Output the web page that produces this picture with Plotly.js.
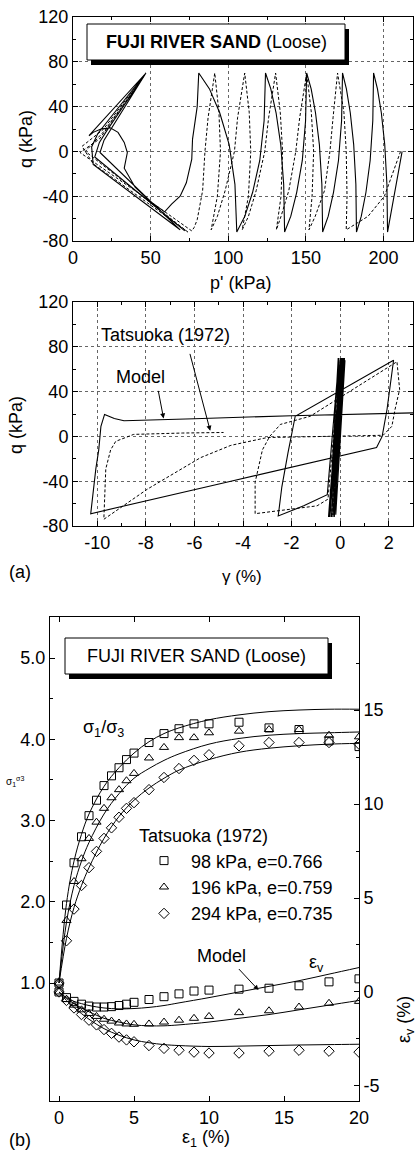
<!DOCTYPE html>
<html>
<head>
<meta charset="utf-8">
<script src="https://cdn.plot.ly/plotly-3.0.1.min.js"></script>
<style>
  html, body { margin: 0; padding: 0; background: #fff; }
  #chart { width: 417px; height: 1156px; }
</style>
</head>
<body>
<div id="chart"></div>
<script>
// ---------- (a) upper: effective stress path, q vs p' ----------
const pathModelP = [212,207.5,202.6, 202.2,200.8,198.6,196.1,193.6, 193.1,191.4,188.7,185.7,182.6,
  182.2,180.8,178.6,176.1,173.6, 173.0,171.0,167.8,164.4,160.8, 160.3,158.7,156.2,153.4,150.5,
  149.8,147.7,144.1,140.3,136.3, 135.7,133.8,130.8,127.4,124, 123.1,120.3,115.7,110.7,105.5,
  104.3,100.6,94.5,87.9,81, 80,77,76.5,73,69,63.5,59, 50,40,33,35,33,29,24,18,13,10.3,
  47,16,12,13,69,17.4,20,47,22,17,14,72];
const pathModelQ = [0,-35,-72, -29.4,6.1,34.5,55.8,70, 27.4,-8.1,-36.5,-57.8,-72,
  -29.4,6.1,34.5,55.8,70, 27.4,-8.1,-36.5,-57.8,-72, -29.4,6.1,34.5,55.8,70,
  27.4,-8.1,-36.5,-57.8,-72, -29.4,6.1,34.5,55.8,70, 27.4,-8.1,-36.5,-57.8,-72,
  -29.4,6.1,34.5,55.8,70, 40,11,-7,-28,-40,-47,-54, -45,-32,-15,-1,8,17,21,20,17,14,
  70,16,4,-11.6,-70,-1,10,70,19,8,-5,-71];

const pathTestP = [211,206,200.6,190,176, 176.5,176,174.5,170.4, 167.5,165.5,162,156,152,
  154,155,153.5,150.5, 146,143.5,139,134,131, 134,135,133.5,130.5, 126,123.5,118,113,109,
  113,114.5,113.5,110.6, 106,104,98,93,89, 93,95,94,91.3, 87,85,83.5,81,80,78,76.5,
  45,20,4.5,17,45,19.5,5.8,13,74,8,20,46];
const pathTestQ = [0,-20,-40,-58,-70, -40,0,35,70, 30,0,-35,-58,-70,
  -40,0,35,70, 30,0,-35,-58,-70, -40,0,35,70, 30,0,-35,-58,-70,
  -40,0,35,70, 30,0,-35,-58,-70, -40,0,35,70, 30,0,-35,-55,-61,-68,-71,
  -40,-16,-1,11,66,19.6,4.5,-11,-72,0,18,68];

// ---------- (a) lower: q vs shear strain ----------
const shearModelStrain = [0,0.02,-0.48,0.06,-0.42,0.1,-0.36,0.14,-0.3,0.18,-0.24,-0.08,-0.44,0.2,-0.18,-0.05,
  -0.53,-1.5,-2.55,-2.4,-2.15,-1.85,2.2,1.93,1.73,1.5,-4.5,-10.27,
  -10.06,-9.94,-9.85,-9.7,-9.3,-8.9,-6,-2,3];
const shearModelQ = [0,70,-72,70,-72,70,-72,70,-72,70,-72,70,-72,68,-70,70,
  -52,-62,-71,-45,-15,18,68,24,0,-10,-40,-69,
  -29,-12,9,19.6,16,14,15.8,18.5,21];

const shearTestStrain = [0,0.05,-0.35,0.1,-0.3,0.15,-0.25,0,-0.5,-0.95,-3.5,-3.5,-3.2,-2.9,-2.46,-1.23,
  2.34,2.45,2.26,2.13,1.77,0,-3,-4.5,-5.75,-7.93,-9.73,-9.65,-9.45,-9.24,-8.5,-6.5,-4.8];
const shearTestQ = [0,68,-70,68,-70,68,-70,68,-56,-62,-69,-41,-12,0,10.7,18,
  66.7,42,24,9,1,0.5,-1,-8,-19,-47,-74,-29,-12,-4.4,1.8,3,3.5];

// ---------- (b): drained triaxial compression ----------
const axialStrain = [0,0.5,1,1.5,2,2.5,3,3.5,4,4.5,5,6,7,8,9,10,12,14,16,18,20];
const ratio98  = [1.0,1.96,2.48,2.80,3.06,3.25,3.43,3.55,3.65,3.75,3.83,3.96,4.07,4.13,4.19,4.19,4.21,4.14,4.12,3.98,3.91];
const ratio196 = [1.0,1.77,2.25,2.53,2.78,2.98,3.15,3.28,3.38,3.49,3.58,3.77,3.90,4.02,4.02,4.08,4.10,4.12,4.12,4.05,4.03];
const ratio294 = [1.0,1.52,1.91,2.20,2.42,2.62,2.78,2.91,3.04,3.15,3.22,3.38,3.53,3.64,3.74,3.81,3.92,3.96,3.96,3.96,3.94];
const vol98  = [0,-0.3,-0.5,-0.65,-0.75,-0.8,-0.8,-0.78,-0.72,-0.65,-0.55,-0.4,-0.25,-0.1,0.05,0.1,0.15,0.2,0.33,0.54,0.7];
const vol196 = [0,-0.4,-0.7,-0.95,-1.15,-1.3,-1.45,-1.55,-1.65,-1.7,-1.72,-1.7,-1.6,-1.5,-1.4,-1.3,-1.1,-1.0,-0.8,-0.6,-0.5];
const vol294 = [0,-0.45,-0.85,-1.2,-1.5,-1.75,-2.0,-2.2,-2.4,-2.55,-2.65,-2.85,-3.0,-3.1,-3.2,-3.25,-3.25,-3.15,-3.1,-3.15,-3.2];

const modelAxialStrain = [0,0.5,1,1.5,2,3,4,5,6,7,8,10,12,14,16,18,20];
const modelRatio98  = [1.0,1.98,2.5,2.83,3.08,3.42,3.65,3.83,3.97,4.07,4.14,4.24,4.30,4.34,4.36,4.37,4.37];
const modelRatio196 = [1.0,1.75,2.2,2.5,2.73,3.08,3.33,3.52,3.64,3.74,3.82,3.94,4.01,4.05,4.07,4.08,4.09];
const modelRatio294 = [1.0,1.55,1.93,2.2,2.42,2.78,3.05,3.25,3.4,3.52,3.62,3.75,3.84,3.89,3.92,3.94,3.95];
const modelVol98  = [0,-0.3,-0.5,-0.62,-0.72,-0.85,-0.9,-0.88,-0.82,-0.72,-0.58,-0.3,0.0,0.3,0.6,0.95,1.3];
const modelVol196 = [0,-0.35,-0.62,-0.85,-1.05,-1.4,-1.6,-1.75,-1.8,-1.8,-1.75,-1.6,-1.4,-1.2,-0.95,-0.7,-0.45];
const modelVol294 = [0,-0.45,-0.82,-1.15,-1.45,-1.95,-2.3,-2.55,-2.7,-2.8,-2.85,-2.9,-2.88,-2.85,-2.82,-2.8,-2.78];

const seriesNames = ['98 kPa, e=0.766', '196 kPa, e=0.759', '294 kPa, e=0.735'];

// tick values and labels
const pTicks = [0,50,100,150,200];
const qTicks = [-80,-40,0,40,80,120];
const qTickText = ['-80','-40','0','40','80','120'];
const gammaTicks = [-10,-8,-6,-4,-2,0,2];
const gammaTickText = ['-10','-8','-6','-4','-2','0','2'];
const e1Ticks = [0,5,10,15,20];
const ratioTicks = [1,2,3,4,5];
const ratioTickText = ['1.0','2.0','3.0','4.0','5.0'];
const volTicks = [-5,0,5,10,15];
const volTickText = ['-5','0','5','10','15'];

// ---------- drawing ----------
const FONT = 'Liberation Sans, Arial, Helvetica, sans-serif';
const W = 417, H = 1156;
const PX = x => x / W;
const PY = y => 1 - y / H;

const solid = {color: '#000', width: 1.1};
const dashed = {color: '#000', width: 1, dash: '3px,2px'};

function axis(extra) {
  return Object.assign({
    showline: true, linecolor: '#000', linewidth: 1,
    ticks: 'inside', ticklen: 5, tickwidth: 1, tickcolor: '#000',
    mirror: 'ticks', zeroline: false, showgrid: false,
    tickfont: {family: FONT, size: 18, color: '#000'},
    fixedrange: true
  }, extra);
}
const grid = {showgrid: true, gridcolor: '#666', griddash: 'dot', gridwidth: 1};

const traces = [
  {x: pathModelP, y: pathModelQ, xaxis: 'x', yaxis: 'y', mode: 'lines', line: solid, showlegend: false},
  {x: pathTestP, y: pathTestQ, xaxis: 'x', yaxis: 'y', mode: 'lines', line: dashed, showlegend: false},
  {x: shearModelStrain, y: shearModelQ, xaxis: 'x2', yaxis: 'y2', mode: 'lines', line: solid, showlegend: false},
  {x: shearTestStrain, y: shearTestQ, xaxis: 'x2', yaxis: 'y2', mode: 'lines', line: dashed, showlegend: false}
];

const modelRatios = [modelRatio98, modelRatio196, modelRatio294];
const modelVols = [modelVol98, modelVol196, modelVol294];
modelRatios.forEach(r => traces.push({x: modelAxialStrain, y: r, xaxis: 'x3', yaxis: 'y3', mode: 'lines',
  line: {color: '#000', width: 1, shape: 'spline'}, showlegend: false}));
modelVols.forEach(v => traces.push({x: modelAxialStrain, y: v, xaxis: 'x3', yaxis: 'y4', mode: 'lines',
  line: {color: '#000', width: 1, shape: 'spline'}, showlegend: false}));

const symbols = ['square-open', 'triangle-up-open', 'diamond-open'];
const ratios = [ratio98, ratio196, ratio294];
const vols = [vol98, vol196, vol294];
symbols.forEach((s, i) => {
  const mk = {symbol: s, size: 8, color: '#000', line: {width: 1, color: '#000'}};
  traces.push({x: axialStrain, y: ratios[i], xaxis: 'x3', yaxis: 'y3', mode: 'markers',
    marker: mk, name: seriesNames[i], showlegend: true});
  traces.push({x: axialStrain, y: vols[i], xaxis: 'x3', yaxis: 'y4', mode: 'markers',
    marker: mk, showlegend: false});
});

function txt(text, x, y, size, opts) {
  return Object.assign({text: text, xref: 'paper', yref: 'paper', x: PX(x), y: PY(y),
    xanchor: 'center', yanchor: 'middle', showarrow: false,
    font: {family: FONT, size: size, color: '#000'}}, opts || {});
}
function arrow(xr, yr, x, y, ax, ay) {
  return {text: '', xref: xr, yref: yr, x: x, y: y, axref: xr, ayref: yr, ax: ax, ay: ay,
    showarrow: true, arrowhead: 2, arrowsize: 1, arrowwidth: 1, arrowcolor: '#000'};
}

const annotations = [
  txt('<b>FUJI RIVER SAND</b> (Loose)', 216, 42, 18),
  txt("p' (kPa)", 240, 283, 18),
  txt('q (kPa)', 26, 139, 18, {textangle: -90}),
  txt('Tatsuoka (1972)', 165, 335, 18),
  txt('Model', 140, 377, 18),
  arrow('x2', 'y2', -5.35, 5, -6.2, 75),
  arrow('x2', 'y2', -7.27, 16, -7.5, 42),
  txt('q (kPa)', 16, 425, 18, {textangle: -90}),
  txt('γ (%)', 242, 576, 17),
  txt('(a)', 20, 572, 18),
  txt('FUJI RIVER SAND (Loose)', 196, 656, 18),
  txt('σ<sub>1</sub>/σ<sub>3</sub>', 103, 728, 18),
  txt('σ<sub>1</sub><sup>σ</sup><sup>3</sup>', 15, 781, 10),
  txt('Model', 221, 956, 18),
  arrow('x3', 'y4', 13.3, 0.1, 11.9, 1.3),
  txt('ε<sub>v</sub>', 316, 963, 18),
  txt('ε<sub>v</sub> (%)', 405, 1020, 18, {textangle: -90}),
  txt('ε<sub>1</sub> (%)', 206, 1138, 18),
  txt('(b)', 20, 1140, 18)
];

const shapes = [
  {type: 'rect', xref: 'paper', yref: 'paper', x0: PX(91), x1: PX(349), y0: PY(65), y1: PY(29),
    fillcolor: '#000', line: {width: 0}, layer: 'above'},
  {type: 'rect', xref: 'paper', yref: 'paper', x0: PX(87), x1: PX(345), y0: PY(60), y1: PY(24),
    fillcolor: '#fff', line: {color: '#000', width: 1}, layer: 'above'},
  {type: 'rect', xref: 'paper', yref: 'paper', x0: PX(69), x1: PX(332), y0: PY(679), y1: PY(643),
    fillcolor: '#000', line: {width: 0}, layer: 'above'},
  {type: 'rect', xref: 'paper', yref: 'paper', x0: PX(65), x1: PX(328), y0: PY(674), y1: PY(638),
    fillcolor: '#fff', line: {color: '#000', width: 1}, layer: 'above'}
];

const layout = {
  width: W, height: H,
  margin: {l: 0, r: 0, t: 0, b: 0},
  paper_bgcolor: '#fff', plot_bgcolor: '#fff',
  font: {family: FONT, size: 18, color: '#000'},
  showlegend: true,
  legend: {x: PX(137), y: PY(819), xanchor: 'left', yanchor: 'top', bgcolor: 'rgba(0,0,0,0)',
    font: {family: FONT, size: 18, color: '#000'},
    title: {text: 'Tatsuoka (1972)', font: {family: FONT, size: 18, color: '#000'}},
    itemwidth: 44, tracegroupgap: 0},
  xaxis: axis(Object.assign({domain: [PX(73), PX(413)], range: [0, 219], anchor: 'y',
    tickmode: 'array', tickvals: pTicks,
    minor: {dtick: 25, tick0: 0, ticks: 'inside', ticklen: 3, tickcolor: '#000', showgrid: false}}, grid)),
  yaxis: axis(Object.assign({domain: [PY(241), PY(17)], range: [-80, 120], anchor: 'x',
    tickmode: 'array', tickvals: qTicks, ticktext: qTickText,
    minor: {dtick: 20, tick0: 0, ticks: 'inside', ticklen: 3, tickcolor: '#000', showgrid: false}}, grid)),
  xaxis2: axis(Object.assign({domain: [PX(73), PX(413)], range: [-11, 3], anchor: 'y2',
    tickmode: 'array', tickvals: gammaTicks, ticktext: gammaTickText,
    minor: {dtick: 1, tick0: 0, ticks: 'inside', ticklen: 3, tickcolor: '#000', showgrid: false}}, grid)),
  yaxis2: axis(Object.assign({domain: [PY(526), PY(302)], range: [-80, 120], anchor: 'x2',
    tickmode: 'array', tickvals: qTicks, ticktext: qTickText,
    minor: {dtick: 20, tick0: 0, ticks: 'inside', ticklen: 3, tickcolor: '#000', showgrid: false}}, grid)),
  xaxis3: axis({domain: [PX(50), PX(359)], range: [-0.6, 20], anchor: 'y3',
    tickmode: 'array', tickvals: e1Ticks}),
  yaxis3: axis({domain: [PY(1101), PY(617)], range: [-0.452, 5.505], anchor: 'x3', mirror: false,
    tickmode: 'array', tickvals: ratioTicks, ticktext: ratioTickText,
    minor: {tickmode: 'array', tickvals: [1.5, 2.5, 3.5, 4.5], ticks: 'inside', ticklen: 3, tickcolor: '#000', showgrid: false}}),
  yaxis4: axis({overlaying: 'y3', side: 'right', anchor: 'x3', range: [-5.8, 19.95], mirror: false,
    tickmode: 'array', tickvals: volTicks, ticktext: volTickText,
    minor: {tickmode: 'array', tickvals: [-2.5, 2.5, 7.5, 12.5, 17.5], ticks: 'inside', ticklen: 3, tickcolor: '#000', showgrid: false}}),
  annotations: annotations,
  shapes: shapes
};

Plotly.newPlot('chart', traces, layout, {staticPlot: true, displayModeBar: false});
</script>
</body>
</html>
